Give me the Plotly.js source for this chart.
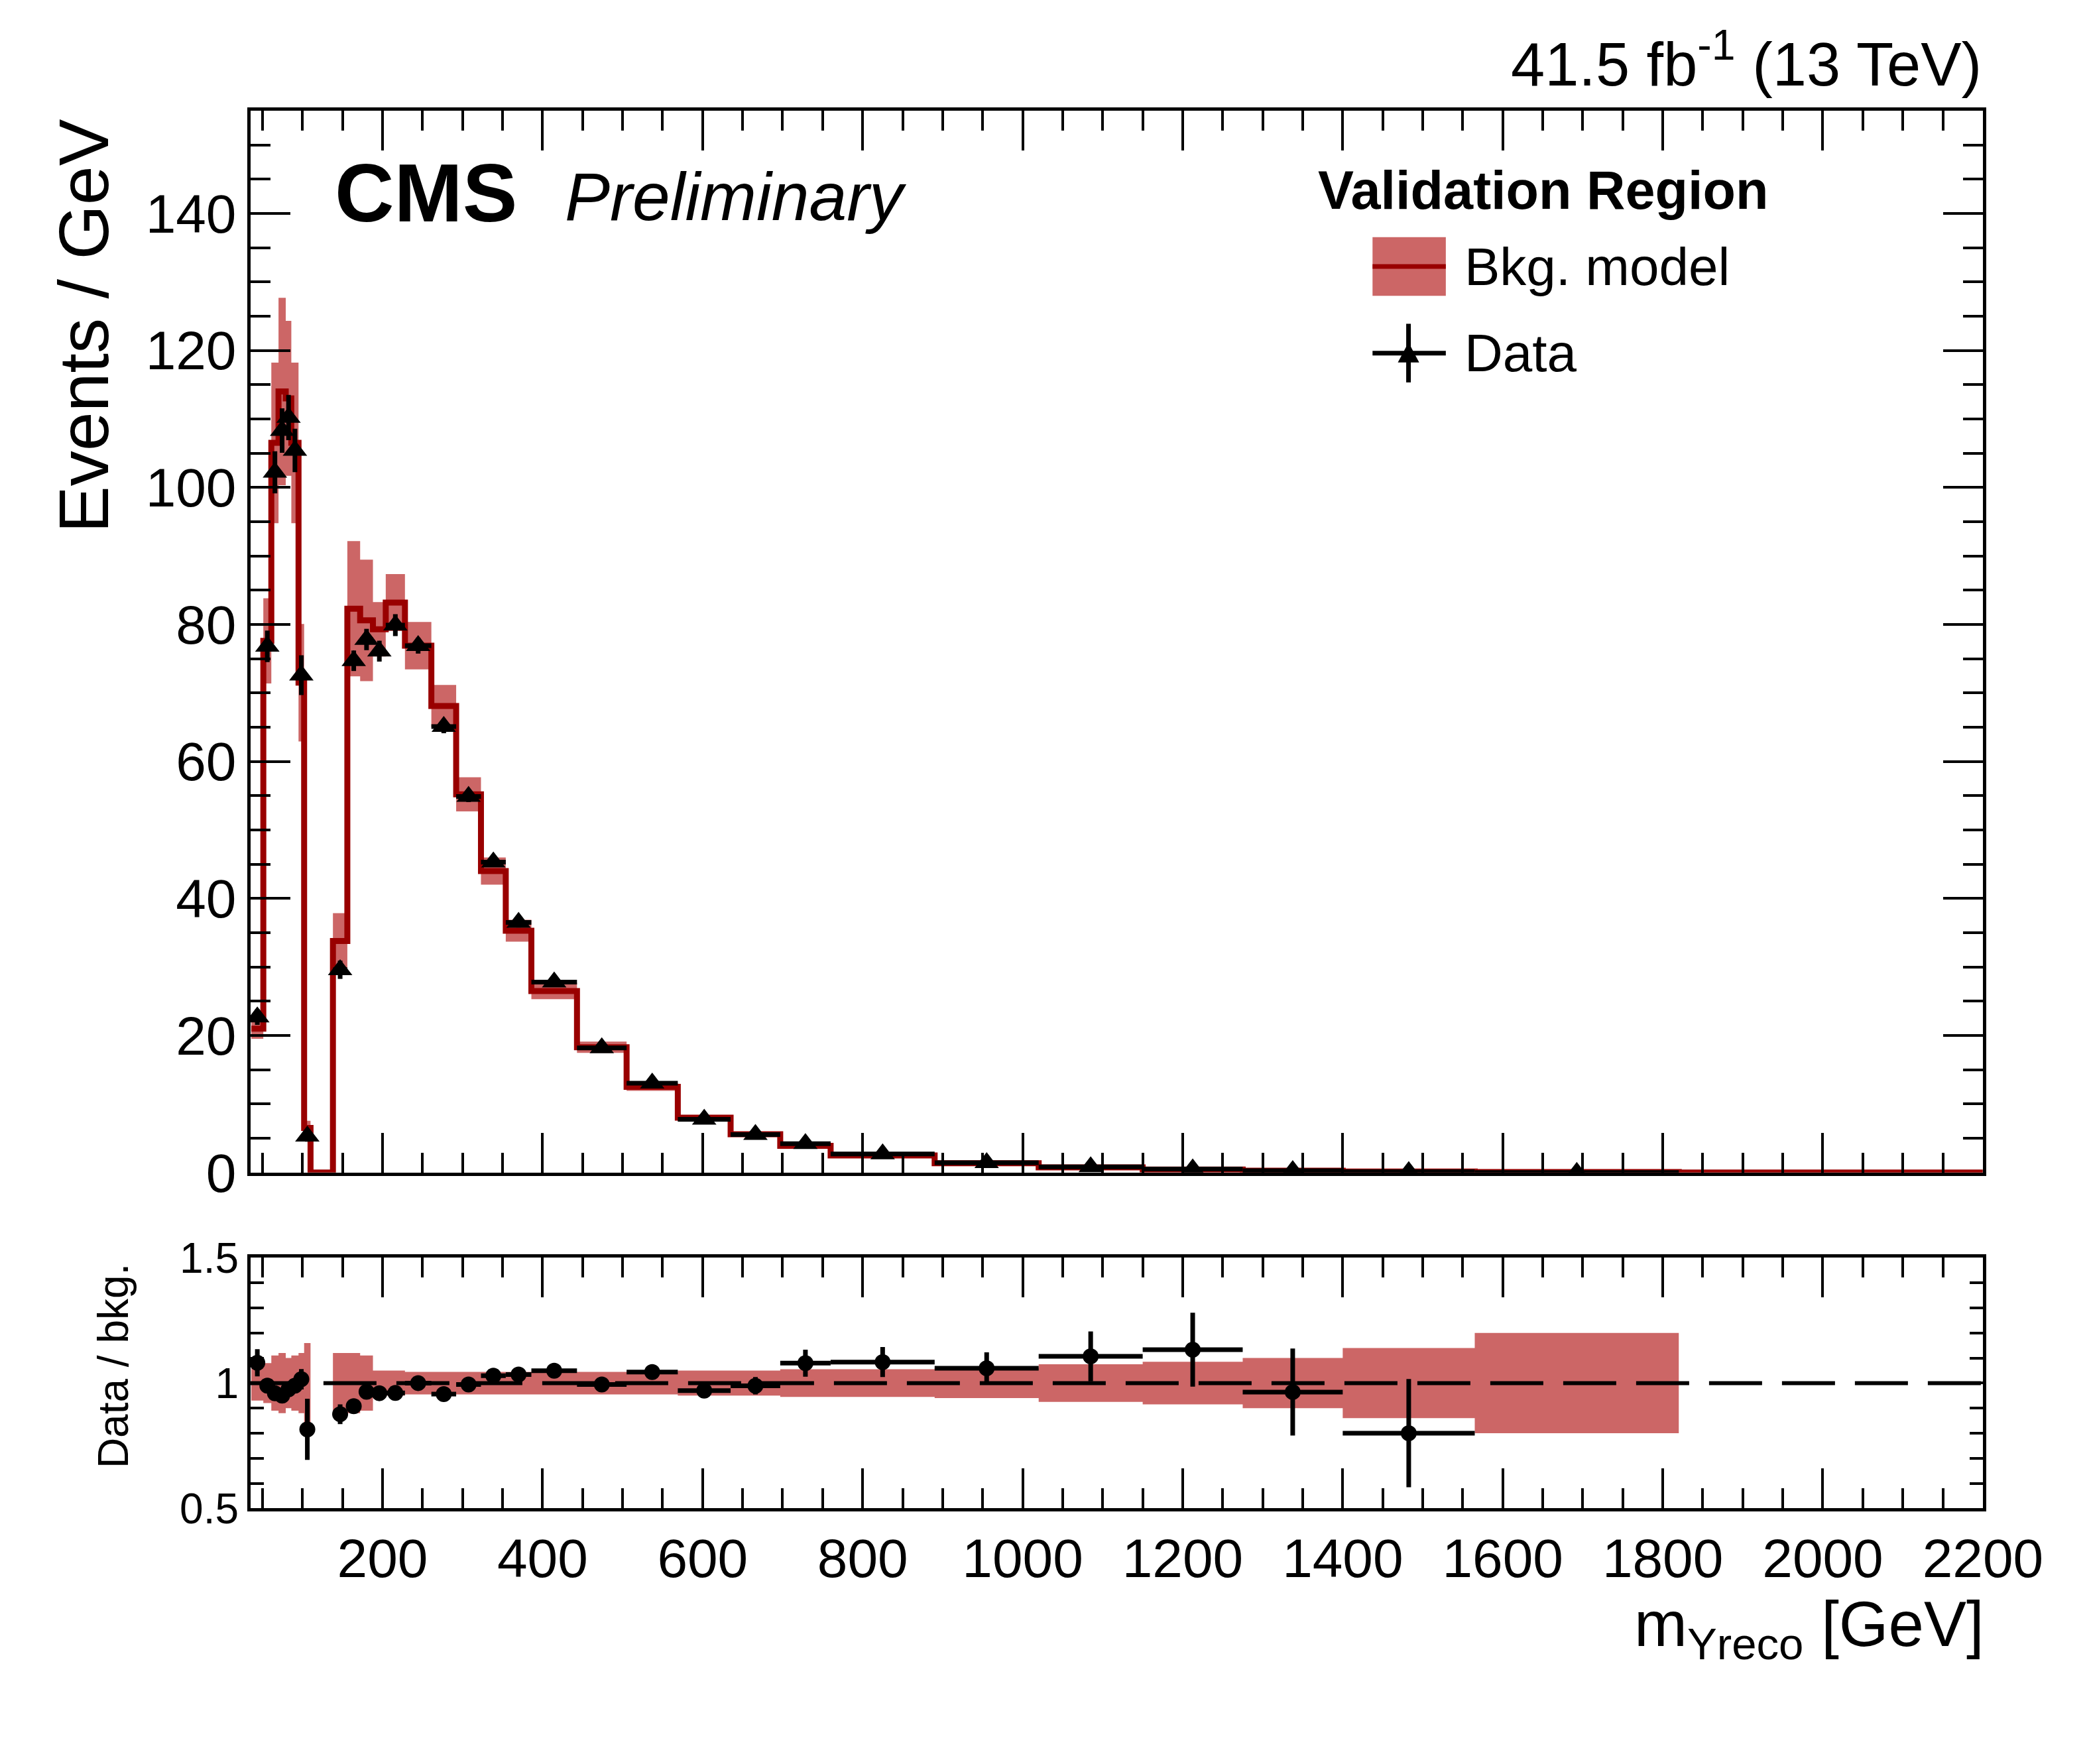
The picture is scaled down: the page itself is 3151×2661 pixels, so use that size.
<!DOCTYPE html>
<html><head><meta charset="utf-8">
<script src="https://cdn.plot.ly/plotly-3.0.1.min.js"></script>
<style>body{margin:0;background:#fff}</style></head>
<body><div id="c" style="width:3151px;height:2661px"></div>
<script>
const binEdges = [36,51,61,70,79,86,95,102,110,138,156,172,188,204,228,261,292,323,354,386,443,505,569,635,697,760,890,1020,1150,1275,1400,1565,1820,2200];
const bkg = [21,77.6,106.5,114,113,106.5,71.5,6.5,0,33.8,82.3,80.6,79.3,83.2,76.9,68.1,55.2,44,35.3,26.5,18.3,12.5,8.0,5.6,3.9,2.5,1.35,0.75,0.45,0.28,0.15,0.08,0];
const bkgRelErr = [0.07,0.08,0.11,0.12,0.10,0.11,0.12,0.16,0,0.12,0.12,0.11,0.05,0.05,0.045,0.045,0.045,0.045,0.045,0.045,0.045,0.045,0.05,0.05,0.055,0.055,0.06,0.075,0.085,0.10,0.14,0.20,0];
const dataVals = [22.7,76.8,102.2,108.3,110.2,105.4,72.6,5.3,null,29.6,74.7,77.8,76.1,79.9,76.9,65.1,54.9,45.3,36.5,27.8,18.2,13.05,7.76,5.54,4.21,2.71,1.43,0.83,0.51,0.27,0.12,0,null];
const dataRelErr = [0.05,0.03,0.03,0.03,0.03,0.03,0.04,0.15,0,0.045,0.02,0.02,0.02,0.02,0.015,0.015,0.015,0.015,0.02,0.02,0.02,0.025,0.03,0.035,0.05,0.055,0.06,0.09,0.13,0.18,0.27,0,0];
const xTickVals = [200,400,600,800,1000,1200,1400,1600,1800,2000,2200];

const W=3151,H=2661,S=2.01;
const px=x=>x*S/W, py=y=>1-y*S/H;
const red='#990000', band='#cc6666';
const F='Liberation Sans, Arial, sans-serif';

let sx=[],sy=[];
for(let i=0;i<bkg.length;i++){sx.push(binEdges[i]);sy.push(bkg[i]);}
sx.push(binEdges[binEdges.length-1]);sy.push(bkg[bkg.length-1]);
let bx=[],by=[],rbx=[],rby=[];
for(let i=0;i<bkg.length;i++){
  if(!bkg[i])continue;
  const lo=binEdges[i],hi=binEdges[i+1],e=bkg[i]*bkgRelErr[i];
  bx.push(lo,hi,hi,lo,lo,null);by.push(bkg[i]-e,bkg[i]-e,bkg[i]+e,bkg[i]+e,bkg[i]-e,null);
  const r=bkgRelErr[i];
  rbx.push(lo,hi,hi,lo,lo,null);rby.push(1-r,1-r,1+r,1+r,1-r,null);
}
let dx=[],dy=[],dey=[],dex=[],rx=[],ry=[],rey=[],rex=[];
for(let i=0;i<bkg.length;i++){
  if(dataVals[i]===null)continue;
  const c=(binEdges[i]+binEdges[i+1])/2,h=(binEdges[i+1]-binEdges[i])/2;
  dx.push(c);dy.push(dataVals[i]);dey.push(dataVals[i]*dataRelErr[i]);dex.push(h);
  if(bkg[i]>0&&dataVals[i]>0){rx.push(c);ry.push(dataVals[i]/bkg[i]);rey.push(dataVals[i]/bkg[i]*dataRelErr[i]);rex.push(h);}
}
const traces=[
 {x:bx,y:by,type:'scatter',mode:'lines',fill:'toself',fillcolor:band,line:{width:0},hoverinfo:'skip',xaxis:'x',yaxis:'y'},
 {x:sx,y:sy,type:'scatter',mode:'lines',line:{shape:'hv',color:red,width:9},xaxis:'x',yaxis:'y'},
 {x:dx,y:dy,type:'scatter',mode:'markers',marker:{symbol:'triangle-up',size:32,color:'#000'},
  error_y:{type:'data',array:dey,color:'#000',thickness:7,width:0},error_x:{type:'data',array:dex,color:'#000',thickness:7,width:0},xaxis:'x',yaxis:'y'},
 {x:rbx,y:rby,type:'scatter',mode:'lines',fill:'toself',fillcolor:band,line:{width:0},xaxis:'x2',yaxis:'y2'},
 {x:[35,2200],y:[1,1],type:'scatter',mode:'lines',line:{color:'#000',width:6,dash:'80px,30px'},xaxis:'x2',yaxis:'y2'},
 {x:rx,y:ry,type:'scatter',mode:'markers',marker:{symbol:'circle',size:24,color:'#000'},
  error_y:{type:'data',array:rey,color:'#000',thickness:7,width:0},error_x:{type:'data',array:rex,color:'#000',thickness:7,width:0},xaxis:'x2',yaxis:'y2'}
];
const ax={showline:true,linecolor:'#000',linewidth:5,mirror:'allticks',ticks:'inside',tickcolor:'#000',tickwidth:4,showgrid:false,zeroline:false};
const layout={
 width:W,height:H,margin:{l:0,r:0,t:0,b:0},paper_bgcolor:'#fff',plot_bgcolor:'#fff',showlegend:false,
 xaxis:Object.assign({},ax,{domain:[px(188),px(1488)],range:[35,2200],anchor:'y',tickvals:xTickVals,showticklabels:false,ticklen:60,
   minor:{dtick:50,tick0:0,ticklen:30,ticks:'inside',tickcolor:'#000',tickwidth:4}}),
 yaxis:Object.assign({},ax,{domain:[py(880),py(83)],range:[0,155],anchor:'x',dtick:20,tick0:0,ticklen:60,
   tickfont:{family:F,size:82,color:'#000'},minor:{dtick:5,ticklen:30,ticks:'inside',tickcolor:'#000',tickwidth:4}}),
 xaxis2:Object.assign({},ax,{domain:[px(188),px(1488)],range:[35,2200],anchor:'y2',tickvals:xTickVals,ticklen:60,
   tickfont:{family:F,size:82,color:'#000'},minor:{dtick:50,tick0:0,ticklen:30,ticks:'inside',tickcolor:'#000',tickwidth:4}}),
 yaxis2:Object.assign({},ax,{domain:[py(1132),py(944)],range:[0.5,1.5],anchor:'x2',tickvals:[0.5,1,1.5],ticktext:['0.5','1','1.5'],ticklen:40,
   tickfont:{family:F,size:64,color:'#000'},minor:{dtick:0.1,tick0:0,ticklen:20,ticks:'inside',tickcolor:'#000',tickwidth:4}}),
 shapes:[
  {type:'rect',xref:'paper',yref:'paper',x0:px(1030),x1:px(1085),y0:py(222),y1:py(178),fillcolor:band,line:{width:0}},
  {type:'line',xref:'paper',yref:'paper',x0:px(1030),x1:px(1085),y0:py(200),y1:py(200),line:{color:red,width:7}},
  {type:'line',xref:'paper',yref:'paper',x0:px(1030),x1:px(1085),y0:py(265),y1:py(265),line:{color:'#000',width:7}},
  {type:'line',xref:'paper',yref:'paper',x0:px(1057),x1:px(1057),y0:py(243),y1:py(287),line:{color:'#000',width:7}},
  {type:'path',xref:'paper',yref:'paper',path:`M ${px(1049)} ${py(272)} L ${px(1065)} ${py(272)} L ${px(1057)} ${py(257)} Z`,fillcolor:'#000',line:{width:0}}
 ],
 annotations:[
  {xref:'paper',yref:'paper',x:px(1488),y:py(45),xanchor:'right',yanchor:'middle',showarrow:false,text:'41.5 fb<sup>-1</sup> (13 TeV)',font:{family:F,size:92,color:'#000'}},
  {xref:'paper',yref:'paper',x:px(250),y:py(145),xanchor:'left',yanchor:'middle',showarrow:false,text:'<b>CMS</b>',font:{family:F,size:124,color:'#000'}},
  {xref:'paper',yref:'paper',x:px(423),y:py(148),xanchor:'left',yanchor:'middle',showarrow:false,text:'<i>Preliminary</i>',font:{family:F,size:102,color:'#000'}},
  {xref:'paper',yref:'paper',x:px(988),y:py(143),xanchor:'left',yanchor:'middle',showarrow:false,text:'<b>Validation Region</b>',font:{family:F,size:81,color:'#000'}},
  {xref:'paper',yref:'paper',x:px(1098),y:py(200),xanchor:'left',yanchor:'middle',showarrow:false,text:'Bkg. model',font:{family:F,size:80,color:'#000'}},
  {xref:'paper',yref:'paper',x:px(1098),y:py(265),xanchor:'left',yanchor:'middle',showarrow:false,text:'Data',font:{family:F,size:80,color:'#000'}},
  {xref:'paper',yref:'paper',x:px(63),y:py(88),xanchor:'center',yanchor:'top',textangle:-90,showarrow:false,text:'Events / GeV',font:{family:F,size:106,color:'#000'}},
  {xref:'paper',yref:'paper',x:px(85),y:py(1025),xanchor:'center',yanchor:'middle',textangle:-90,showarrow:false,text:'Data / bkg.',font:{family:F,size:64,color:'#000'}},
  {xref:'paper',yref:'paper',x:px(1490),y:py(1222),xanchor:'right',yanchor:'middle',showarrow:false,text:'m<sub>Yreco</sub> [GeV]',font:{family:F,size:96,color:'#000'}}
 ]
};
Plotly.newPlot('c',traces,layout,{staticPlot:true});
</script></body></html>
